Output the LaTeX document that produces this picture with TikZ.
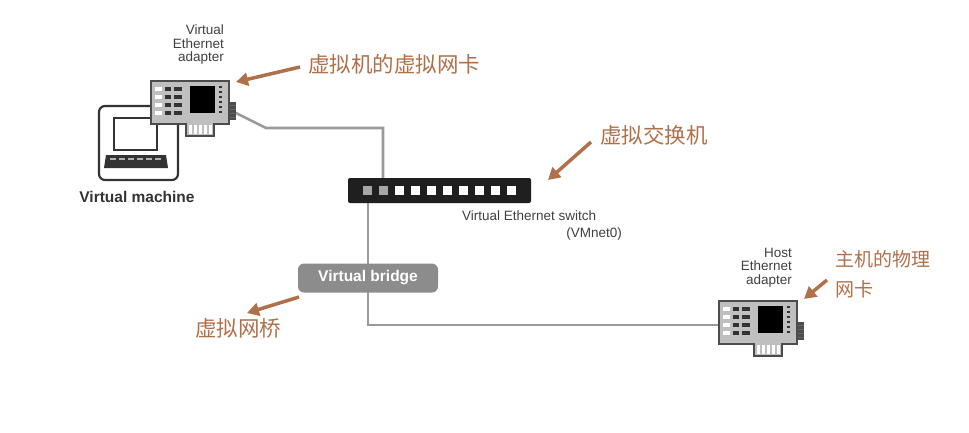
\documentclass[tikz,border=0pt]{standalone}
\usepackage{fontspec}
\setmainfont{Liberation Sans}
\newfontfamily\cjk{Noto Sans CJK SC}
\usetikzlibrary{arrows.meta}
\definecolor{brn}{HTML}{B0704A}
\definecolor{cab}{HTML}{9A9A9A}
\tikzset{
 cn/.style={text=brn,font=\cjk\fontsize{21.5}{29}\selectfont,anchor=west,inner sep=0pt},
 lab/.style={text=black!75,font=\fontsize{13.5}{13.5}\selectfont,align=right,inner sep=0pt},
 parr/.style={draw=brn,line width=3.5pt,-{Triangle[length=12pt,width=13pt]}},
 cable/.style={draw=cab,line width=2.6pt},
 card/.pic={
  \fill[black!70] (0,0) rectangle (80,45);
  \fill[black!70] (35,45) rectangle (65,57);
  \fill[black!70] (80,22) rectangle (86,40);
  \fill[black!25] (2,2) rectangle (78,43);
  \fill[black!25] (37,43) rectangle (63,55);
  \foreach \i in {0,...,4} {\fill[white] (39+\i*5,45) rectangle (42+\i*5,54);}
  \fill[black] (40,6) rectangle (65,33);
  \foreach \j in {0,...,3} {
   \fill[white] (5,7+\j*8) rectangle (12,11+\j*8);
   \fill[black!80] (15,7+\j*8) rectangle (21,11+\j*8);
   \fill[black!80] (24,7+\j*8) rectangle (32,11+\j*8);}
  \foreach \j in {0,...,5} {\fill[black!80] (69,6+\j*5) rectangle (72,8+\j*5);}
  \foreach \j in {0,...,3} {\fill[black!60] (80,25+\j*4) rectangle (86,26+\j*4);}
 }
}
\begin{document}
\begin{tikzpicture}[x=1pt,y=-1pt]
\useasboundingbox[fill=white] (0,0) rectangle (969,432);
\coordinate (vmc) at (234,112);
\coordinate (b1) at (266,128);
\coordinate (b2) at (383,128);
\coordinate (p2) at (383,190);
\coordinate (p1) at (368,190);
\coordinate (b3) at (368,325);
\coordinate (hc) at (720,325);
\draw[cable] (vmc) -- (b1) -- (b2) -- (p2);
\draw[cable] (p1) -- (b3) -- (hc);
\draw[black!80,line width=2.2pt,rounded corners=6pt] (99,106) rectangle (178,180);
\draw[black!80,line width=2pt] (114,118) rectangle (157,150);
\fill[black!80] (106,155) -- (166,155) -- (168,168) -- (104,168) -- cycle;
\foreach \k in {0,...,5} {\fill[black!30] (110+\k*9,158) rectangle (116+\k*9,160);}
\node[font=\bfseries\fontsize{15.5}{17}\selectfont,text=black!80] (vmt) at (137,197) {Virtual machine};
\pic at (150,80) {card};
\node[lab,anchor=north east] (vea) at (224,25) {Virtual\\Ethernet\\adapter};
\fill[black!88,rounded corners=2pt] (348,178) rectangle (531,203);
\foreach \k in {0,1} {\fill[black!35] (363+\k*16,186) rectangle (372+\k*16,195);}
\foreach \k in {2,...,9} {\fill[white] (363+\k*16,186) rectangle (372+\k*16,195);}
\node[lab,anchor=north west] (vsw) at (462,211) {Virtual Ethernet switch};
\node[lab,anchor=north east] (vmn) at (622,228) {(VMnet0)};
\node[fill=black!45,rounded corners=6pt,minimum width=140pt,minimum height=29pt,text=white,font=\bfseries\fontsize{15.5}{17}\selectfont] (br) at (368,278) {Virtual bridge};
\pic at (718,300) {card};
\node[lab,anchor=north east] (hea) at (792,248) {Host\\Ethernet\\adapter};
\node[cn] (c1) at (308,64) {虚拟机的虚拟网卡};
\node[cn] (c2) at (600,135) {虚拟交换机};
\node[cn,align=left,anchor=north west,font=\cjk\fontsize{19}{30}\selectfont] (c3) at (835,250) {主机的物理\\网卡};
\node[cn] (c4) at (195,328) {虚拟网桥};
\coordinate (s1) at (300,67);
\coordinate (s2) at (591,142);
\coordinate (s3) at (827,280);
\coordinate (s4) at (299,297);
\coordinate (a1) at (236,82);
\coordinate (a2) at (548,180);
\coordinate (a3) at (804,299);
\coordinate (a4) at (247,313);
\draw[parr] (s1) -- (a1);
\draw[parr] (s2) -- (a2);
\draw[parr] (s3) -- (a3);
\draw[parr] (s4) -- (a4);
\end{tikzpicture}
\end{document}
